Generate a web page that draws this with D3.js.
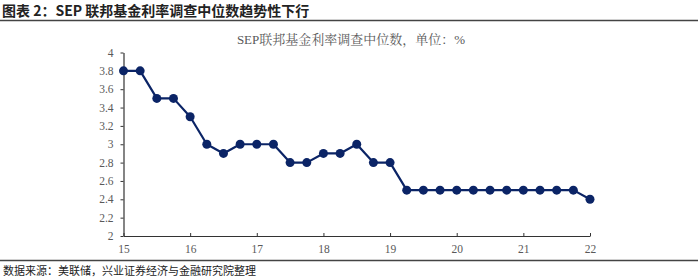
<!DOCTYPE html>
<html>
<head>
<meta charset="utf-8">
<script src="https://cdn.jsdelivr.net/npm/d3@7"></script>
<style>
  html, body { margin: 0; padding: 0; background: #fff; }
  svg { display: block; }
</style>
</head>
<body>
<svg id="chart" width="700" height="279"></svg>
<script>
// ---- data ----
const headerTitle = "图表 2：SEP 联邦基金利率调查中位数趋势性下行";
const chartTitle = "SEP联邦基金利率调查中位数，单位：%";
const sourceNote = "数据来源：美联储，兴业证券经济与金融研究院整理";
const periods = [15, 15.25, 15.5, 15.75, 16, 16.25, 16.5, 16.75, 17, 17.25, 17.5, 17.75,
                 18, 18.25, 18.5, 18.75, 19, 19.25, 19.5, 19.75, 20, 20.25, 20.5, 20.75,
                 21, 21.25, 21.5, 21.75, 22];
const rates = [3.8, 3.8, 3.5, 3.5, 3.3, 3.0, 2.9, 3.0, 3.0, 3.0, 2.8, 2.8,
               2.9, 2.9, 3.0, 2.8, 2.8, 2.5, 2.5, 2.5, 2.5, 2.5, 2.5, 2.5,
               2.5, 2.5, 2.5, 2.5, 2.4];
const xTicks = [15, 16, 17, 18, 19, 20, 21, 22];
const yTicks = [2, 2.2, 2.4, 2.6, 2.8, 3, 3.2, 3.4, 3.6, 3.8, 4];

// ---- drawing ----
const svg = d3.select("#chart");
const serif = "'Liberation Serif','Noto Serif CJK SC','Noto Sans CJK SC',serif";
const cjk = "'Noto Sans CJK SC',sans-serif";

// header
svg.append("text")
  .attr("x", 2).attr("y", 16)
  .attr("font-family", cjk).attr("font-weight", "bold")
  .attr("font-size", 14).attr("fill", "#222")
  .text(headerTitle);
svg.append("line")
  .attr("x1", 0).attr("x2", 698).attr("y1", 20.5).attr("y2", 20.5)
  .attr("stroke", "#444").attr("stroke-width", 1.3);

// footer
svg.append("line")
  .attr("x1", 0).attr("x2", 698).attr("y1", 260.5).attr("y2", 260.5)
  .attr("stroke", "#444").attr("stroke-width", 1.3);
svg.append("text")
  .attr("x", 3).attr("y", 274.5)
  .attr("font-family", cjk)
  .attr("font-size", 11).attr("fill", "#222")
  .text(sourceNote);

// chart title
svg.append("text")
  .attr("x", 351).attr("y", 44)
  .attr("text-anchor", "middle")
  .attr("font-family", serif)
  .attr("font-size", 13).attr("fill", "#595959")
  .text(chartTitle);

const x = d3.scaleLinear().domain([15, 22]).range([123.5, 590]);
const y = d3.scaleLinear().domain([2, 4]).range([236, 52.5]);

// y axis
const yAxis = svg.append("g")
  .attr("transform", "translate(123.5,0)")
  .call(d3.axisLeft(y).tickValues(yTicks).tickFormat(d3.format("~g"))
        .tickSize(3).tickSizeOuter(0).tickPadding(7));
// x axis
const xAxis = svg.append("g")
  .attr("transform", "translate(0,236)")
  .call(d3.axisBottom(x).tickValues(xTicks).tickFormat(d3.format("d"))
        .tickSize(-3).tickSizeOuter(0).tickPadding(9));

[yAxis, xAxis].forEach(g => {
  g.selectAll("path.domain").attr("stroke", "#333").attr("stroke-width", 1.2);
  g.selectAll(".tick line").attr("stroke", "#333").attr("stroke-width", 1);
  g.selectAll(".tick text").attr("fill", "#595959")
    .attr("font-family", serif).attr("font-size", 11.5);
});

// series line
const pts = periods.map((p, i) => [p, rates[i]]);
svg.append("path")
  .datum(pts)
  .attr("fill", "none")
  .attr("stroke", "#0b2466")
  .attr("stroke-width", 2.2)
  .attr("stroke-linejoin", "round")
  .attr("d", d3.line().x(d => x(d[0])).y(d => y(d[1])));

svg.append("g").selectAll("circle")
  .data(pts)
  .join("circle")
  .attr("cx", d => x(d[0]))
  .attr("cy", d => y(d[1]))
  .attr("r", 4.5)
  .attr("fill", "#0b2466");
</script>
</body>
</html>
